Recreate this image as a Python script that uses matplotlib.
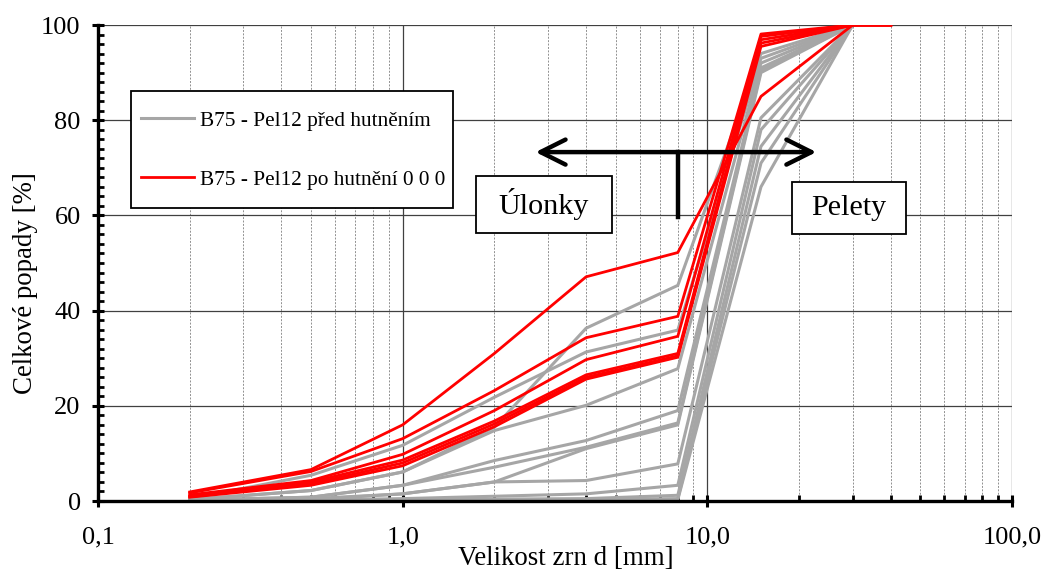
#!/usr/bin/env python3
"""
Grain size distribution curves of B75 - Pel12 before and after compaction.
"""
import matplotlib
matplotlib.use("Agg")
import matplotlib.pyplot as plt
from matplotlib.patches import Rectangle
from matplotlib.ticker import FixedLocator, FuncFormatter, MultipleLocator

plt.rcParams['font.family'] = ['Liberation Serif', 'DejaVu Serif']

# sieve sizes [mm]
sieves = [0.2, 0.5, 1, 2, 4, 8, 15, 30]
sieves_red = [0.2, 0.5, 1, 2, 4, 8, 15, 30, 40]

# passing [%] before compaction (grey)
grey_series = [
    [0.3, 2.2, 6.1, 15.5, 36.3, 45.3, 94.0, 100],
    [0.5, 5.4, 11.7, 21.8, 31.3, 35.9, 93.0, 100],
    [0.3, 2.2, 6.1, 14.8, 20.1, 27.8, 92.0, 100],
    [0.2, 0.8, 3.3, 8.5, 12.7, 19.0, 91.0, 100],
    [0.2, 0.8, 3.3, 7.1, 11.3, 16.4, 90.5, 100],
    [0.1, 0.5, 1.5, 4.0, 11.0, 16.0, 90.0, 100],
    [0.1, 0.3, 1.5, 4.0, 4.3, 7.8, 80.5, 100],
    [0.0, 0.2, 0.5, 1.0, 1.5, 3.3, 78.0, 100],
    [0.0, 0.1, 0.3, 0.4, 0.5, 1.2, 74.5, 100],
    [0.0, 0.0, 0.0, 0.2, 0.3, 0.5, 71.0, 100],
    [0.0, 0.0, 0.0, 0.0, 0.0, 0.3, 66.0, 100],
]

# passing [%] after compaction (red)
red_series = [
    [1.9, 6.6, 16.0, 31.0, 47.1, 52.2, 85.0, 100, 100],
    [1.7, 6.2, 13.1, 23.2, 34.3, 38.8, 98.1, 100, 100],
    [1.3, 4.3, 9.8, 19.0, 29.7, 34.6, 97.6, 100, 100],
    [1.0, 4.0, 8.6, 16.8, 26.5, 31.0, 96.9, 100, 100],
    [0.9, 3.6, 8.0, 16.2, 26.0, 30.5, 96.2, 100, 100],
    [0.8, 3.3, 7.4, 15.6, 25.6, 30.2, 95.5, 100, 100],
]

x_major = [0.1, 1, 10, 100]
x_labels = ['0,1', '1,0', '10,0', '100,0']

fig = plt.figure(figsize=(10.43, 5.70), dpi=100)
ax = fig.add_axes([98 / 1043, 69 / 570, 914 / 1043, 476 / 570])

for i, ys in enumerate(grey_series):
    ax.plot(sieves, ys, color='#a6a6a6', lw=2.2, zorder=3,
            label='B75 - Pel12 před hutněním' if i == 0 else None)
for i, ys in enumerate(red_series):
    ax.plot(sieves_red, ys, color='#ff0000', lw=2.0, zorder=4,
            label='B75 - Pel12 po hutnění 0 0 0' if i == 0 else None)

ax.set_xscale('log')
ax.set_xlim(0.1, 100)
ax.set_ylim(0, 100)

ax.xaxis.set_major_locator(FixedLocator(x_major))
ax.xaxis.set_major_formatter(FuncFormatter(
    lambda v, p: x_labels[x_major.index(v)] if v in x_major else ''))
minors = [m * d for d in (0.1, 1, 10) for m in range(2, 10)]
ax.xaxis.set_minor_locator(FixedLocator(minors))
ax.xaxis.set_minor_formatter(FuncFormatter(lambda v, p: ''))
ax.yaxis.set_major_locator(MultipleLocator(20))
ax.yaxis.set_minor_locator(MultipleLocator(2))

ax.grid(which='major', color='#404040', lw=0.9, zorder=1)
ax.grid(which='minor', axis='x', color='#909090', lw=0.7, ls=(0, (2, 1.5)), zorder=1)
ax.grid(which='minor', axis='y', visible=False)

for s in ('top', 'right'):
    ax.spines[s].set_visible(False)
for s in ('left', 'bottom'):
    ax.spines[s].set_linewidth(2.4)
    ax.spines[s].set_zorder(5)

ax.tick_params(which='major', direction='inout', length=9, width=2.2,
               labelsize=19, pad=8)
ax.tick_params(which='minor', direction='in', length=4, width=2.0)
ax.tick_params(axis='x', which='major', pad=14)

ax.set_xlabel('Velikost zrn d [mm]', fontsize=19.4)
ax.xaxis.set_label_coords(0.512, -0.095, transform=ax.transAxes)
ax.xaxis.label.set_va('top')
ax.set_ylabel('Celkové popady [%]', fontsize=19.4)
ax.yaxis.set_label_coords(-0.066, 0.458)

# double arrow with the split mark
ax.annotate('', xy=(2.73, 73.3), xytext=(22.8, 73.3),
            arrowprops=dict(arrowstyle='<->, head_length=0.9, head_width=0.45',
                            lw=3.2, color='black', mutation_scale=20,
                            shrinkA=0, shrinkB=0), zorder=6)
ax.plot([8, 8], [73.3, 59.6], color='black', lw=3.2, zorder=6)

# labelled boxes
for (x0, y0, w, h, txt) in [(0.4136, 0.563, 0.1488, 0.120, 'Úlonky'),
                            (0.759, 0.561, 0.125, 0.109, 'Pelety')]:
    ax.add_patch(Rectangle((x0, y0), w, h, transform=ax.transAxes,
                           facecolor='white', edgecolor='black', lw=1.3,
                           zorder=7))
    ax.text(x0 + w / 2, y0 + h / 2, txt, transform=ax.transAxes,
            ha='center', va='center', fontsize=21.7, zorder=8)

# legend: plain frame drawn by hand, entries without frame
ax.add_patch(Rectangle((0.036, 0.616), 0.352, 0.245, transform=ax.transAxes,
                       facecolor='white', edgecolor='black', lw=1.3, zorder=8))
leg = ax.legend(loc='upper left', bbox_to_anchor=(0.047, 0.820),
                fontsize=15.3, frameon=False, borderpad=0,
                labelspacing=1.84, handlelength=2.5, handletextpad=0.3,
                borderaxespad=0)
leg.set_zorder(9)

fig.savefig('out.png', dpi=100)
